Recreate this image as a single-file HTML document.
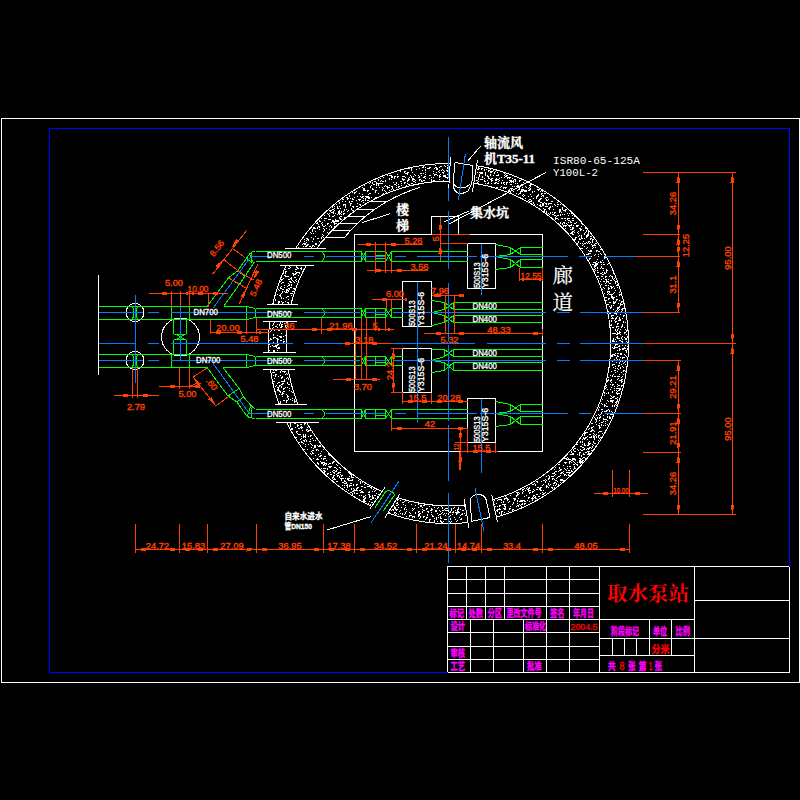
<!DOCTYPE html>
<html lang="zh"><head><meta charset="utf-8"><title>取水泵站</title>
<style>html,body{margin:0;padding:0;background:#000;overflow:hidden}svg{display:block}text{font-family:"Liberation Sans","Noto Sans CJK SC",sans-serif;white-space:pre}.mono{font-family:"Liberation Mono","Noto Sans CJK SC",monospace}.serif{font-family:"Liberation Serif","Noto Serif CJK SC",serif}</style></head>
<body>
<svg width="800" height="800" viewBox="0 0 800 800">
<rect width="800" height="800" fill="#000"/>
<path fill="none" stroke="#fff" stroke-width="1" shape-rendering="crispEdges" transform="translate(0,0.5)" d="M435 165h1M444 165h1M447 165h1M423 166h1M440 166h2M445 166h1M422 167h2M425 167h1M429 167h2M435 167h2M439 167h1M447 167h2M478 167h1M409 168h1M411 168h1M419 168h1M427 168h3M434 168h1M436 168h2M447 168h1M478 168h2M481 168h2M411 169h1M416 169h1M425 169h1M436 169h2M442 169h1M477 169h2M481 169h1M484 169h1M486 169h1M490 169h1M411 170h1M422 170h1M425 170h1M439 170h1M441 170h1M443 170h1M446 170h2M475 170h1M484 170h1M488 170h2M493 170h1M400 171h1M404 171h2M433 171h1M438 171h1M444 171h1M447 171h3M475 171h1M488 171h1M490 171h3M495 171h1M404 172h1M407 172h2M412 172h1M425 172h1M436 172h1M439 172h1M442 172h2M477 172h1M479 172h4M485 172h1M490 172h2M494 172h1M497 172h1M405 173h3M420 173h2M423 173h1M433 173h1M443 173h1M475 173h1M480 173h3M485 173h1M494 173h1M504 173h1M397 174h1M407 174h1M414 174h1M425 174h1M434 174h3M440 174h1M447 174h1M479 174h1M485 174h1M490 174h1M498 174h1M505 174h1M387 175h1M389 175h3M410 175h1M415 175h1M418 175h1M421 175h1M429 175h2M434 175h1M437 175h1M439 175h1M443 175h3M479 175h1M485 175h1M487 175h1M490 175h1M493 175h1M496 175h3M504 175h1M506 175h2M391 176h2M394 176h2M397 176h2M402 176h3M411 176h1M413 176h1M419 176h1M424 176h2M439 176h2M443 176h3M479 176h1M482 176h1M487 176h2M505 176h2M383 177h1M391 177h2M394 177h1M397 177h1M405 177h1M409 177h1M411 177h1M418 177h2M423 177h2M431 177h1M433 177h1M439 177h1M445 177h3M476 177h1M478 177h1M482 177h1M488 177h1M501 177h1M504 177h1M507 177h4M380 178h1M389 178h1M394 178h1M402 178h1M408 178h1M412 178h2M425 178h1M429 178h1M447 178h1M449 178h1M478 178h1M484 178h1M488 178h2M491 178h2M496 178h1M499 178h1M507 178h1M509 178h1M512 178h1M378 179h1M389 179h1M391 179h1M402 179h3M408 179h2M412 179h3M419 179h2M431 179h1M439 179h1M478 179h1M480 179h3M490 179h2M495 179h4M514 179h2M378 180h1M381 180h1M385 180h1M403 180h1M407 180h2M412 180h1M415 180h1M419 180h1M421 180h1M423 180h2M431 180h1M433 180h2M443 180h1M474 180h1M476 180h2M484 180h1M487 180h1M491 180h2M495 180h2M499 180h1M502 180h1M509 180h3M513 180h1M515 180h1M519 180h2M374 181h2M380 181h1M382 181h2M385 181h1M400 181h2M407 181h1M413 181h2M421 181h2M431 181h2M478 181h1M484 181h2M491 181h1M498 181h1M510 181h4M515 181h1M519 181h1M370 182h1M372 182h1M376 182h1M393 182h1M396 182h1M404 182h2M415 182h1M431 182h1M477 182h1M488 182h1M495 182h2M501 182h1M503 182h2M506 182h2M509 182h1M511 182h1M513 182h1M523 182h1M526 182h1M369 183h1M372 183h1M376 183h7M396 183h1M401 183h1M404 183h1M407 183h1M411 183h2M485 183h1M487 183h2M491 183h1M494 183h2M497 183h2M501 183h1M503 183h1M506 183h1M515 183h1M517 183h1M373 184h2M376 184h1M378 184h1M394 184h2M398 184h1M408 184h2M504 184h1M506 184h1M510 184h2M521 184h1M530 184h2M364 185h1M371 185h1M376 185h1M378 185h1M385 185h1M389 185h1M396 185h1M401 185h1M406 185h1M517 185h2M521 185h2M529 185h2M370 186h1M384 186h1M386 186h2M391 186h2M398 186h2M501 186h1M512 186h1M514 186h1M516 186h3M525 186h1M530 186h1M362 187h1M370 187h1M376 187h1M379 187h1M382 187h1M387 187h3M392 187h1M396 187h1M398 187h1M496 187h2M500 187h1M503 187h4M519 187h1M522 187h1M526 187h1M529 187h1M363 188h2M372 188h1M383 188h1M387 188h1M392 188h1M503 188h1M505 188h1M510 188h3M519 188h1M528 188h1M530 188h1M363 189h2M372 189h2M382 189h1M391 189h1M393 189h1M509 189h1M511 189h1M518 189h2M521 189h3M529 189h2M537 189h3M363 190h3M367 190h2M375 190h2M382 190h1M384 190h1M389 190h1M508 190h2M517 190h1M521 190h6M528 190h2M538 190h1M541 190h1M356 191h1M367 191h1M375 191h1M385 191h1M508 191h2M513 191h1M520 191h3M524 191h3M532 191h1M534 191h1M540 191h1M542 191h1M352 192h1M354 192h2M375 192h1M386 192h1M510 192h1M520 192h1M532 192h1M354 193h1M359 193h1M369 193h2M378 193h1M383 193h1M516 193h1M519 193h2M541 193h2M544 193h2M362 194h1M368 194h1M382 194h1M518 194h1M523 194h1M530 194h1M538 194h1M541 194h1M349 195h1M522 195h1M524 195h1M537 195h2M542 195h2M349 196h1M357 196h1M360 196h1M362 196h2M365 196h4M523 196h1M528 196h1M531 196h1M536 196h2M541 196h1M543 196h1M346 197h2M354 197h1M361 197h2M366 197h4M371 197h1M375 197h1M536 197h1M546 197h2M347 198h2M350 198h1M352 198h1M363 198h1M365 198h1M368 198h2M525 198h1M533 198h1M536 198h1M540 198h2M545 198h1M342 199h2M347 199h1M352 199h2M358 199h3M365 199h1M529 199h2M539 199h2M546 199h1M548 199h1M356 200h1M359 200h1M362 200h2M365 200h1M367 200h2M528 200h1M531 200h1M538 200h2M546 200h2M342 201h1M345 201h1M349 201h1M351 201h2M361 201h1M529 201h3M538 201h2M551 201h2M339 202h1M349 202h1M363 202h1M533 202h1M540 202h2M544 202h1M557 202h1M339 203h1M350 203h2M357 203h1M533 203h1M542 203h2M545 203h2M548 203h4M336 204h1M343 204h3M350 204h1M359 204h2M534 204h1M537 204h1M540 204h1M542 204h2M546 204h1M548 204h1M554 204h1M557 204h2M560 204h1M343 205h1M345 205h1M350 205h1M360 205h1M534 205h1M539 205h2M542 205h2M555 205h1M334 206h1M337 206h1M339 206h1M345 206h1M352 206h2M356 206h2M540 206h2M545 206h3M550 206h1M552 206h1M557 206h1M332 207h1M337 207h1M345 207h1M353 207h1M549 207h2M562 207h1M334 208h1M337 208h2M340 208h1M351 208h1M539 208h1M543 208h1M548 208h2M562 208h1M332 209h2M344 209h1M346 209h1M351 209h1M544 209h2M549 209h1M553 209h1M559 209h2M562 209h1M565 209h2M329 210h3M334 210h1M339 210h1M344 210h1M348 210h1M352 210h2M544 210h1M559 210h2M563 210h3M330 211h1M333 211h1M338 211h2M341 211h1M343 211h1M347 211h1M544 211h1M546 211h1M559 211h2M565 211h1M331 212h3M338 212h2M341 212h1M546 212h1M550 212h1M552 212h1M554 212h2M559 212h1M561 212h1M327 213h1M329 213h1M333 213h1M335 213h1M338 213h3M343 213h2M548 213h1M550 213h1M554 213h1M567 213h1M569 213h1M571 213h1M328 214h1M337 214h1M339 214h1M341 214h1M343 214h1M549 214h1M552 214h2M560 214h1M562 214h1M564 214h1M324 215h1M329 215h1M334 215h1M554 215h2M557 215h2M560 215h1M568 215h1M572 215h1M329 216h1M332 216h2M340 216h2M556 216h1M574 216h1M339 217h1M344 217h1M555 217h1M321 218h1M324 218h3M339 218h2M555 218h3M561 218h2M564 218h2M567 218h3M572 218h2M328 219h3M335 219h1M340 219h2M555 219h1M558 219h1M567 219h1M319 220h1M324 220h1M332 220h2M335 220h4M565 220h1M568 220h2M572 220h2M319 221h2M332 221h7M570 221h1M317 222h1M322 222h1M331 222h1M333 222h2M560 222h1M563 222h2M568 222h1M570 222h2M576 222h1M316 223h2M321 223h1M327 223h2M334 223h3M560 223h1M562 223h1M564 223h1M566 223h1M574 223h2M581 223h1M318 224h1M322 224h1M327 224h1M334 224h1M562 224h1M567 224h1M571 224h1M582 224h2M322 225h1M325 225h1M330 225h1M563 225h4M568 225h4M573 225h1M576 225h3M318 226h2M323 226h2M329 226h1M331 226h1M334 226h1M563 226h1M565 226h1M569 226h1M576 226h2M581 226h1M313 227h2M317 227h1M319 227h1M331 227h1M570 227h1M572 227h2M313 228h3M317 228h1M323 228h1M326 228h1M565 228h1M572 228h2M579 228h2M585 228h1M312 229h1M319 229h1M324 229h1M329 229h1M570 229h3M580 229h2M312 230h1M324 230h1M574 230h1M580 230h1M583 230h1M586 230h1M312 231h1M315 231h1M323 231h1M572 231h2M578 231h1M586 231h1M588 231h2M310 232h1M327 232h1M571 232h2M574 232h1M577 232h1M585 232h1M588 232h1M311 233h1M313 233h1M570 233h3M578 233h1M584 233h1M588 233h1M322 234h1M572 234h2M584 234h1M587 234h2M323 235h1M579 235h1M581 235h1M586 235h3M315 236h1M322 236h1M578 236h1M581 236h1M586 236h2M590 236h2M311 237h1M321 237h1M323 237h1M575 237h2M581 237h1M586 237h1M306 238h2M313 238h1M317 238h2M321 238h1M575 238h1M579 238h1M581 238h2M584 238h1M590 238h2M304 239h1M307 239h2M313 239h1M574 239h2M579 239h2M590 239h1M592 239h2M306 240h1M308 240h1M592 240h1M304 241h1M312 241h1M319 241h1M321 241h1M578 241h1M583 241h1M588 241h2M592 241h1M306 242h1M320 242h1M578 242h1M586 242h1M588 242h1M590 242h1M592 242h1M303 243h3M315 243h2M577 243h1M580 243h1M582 243h1M584 243h2M587 243h1M589 243h1M595 243h2M302 244h1M304 244h2M307 244h2M315 244h2M583 244h1M591 244h1M594 244h1M306 245h2M312 245h2M582 245h1M592 245h4M303 246h1M305 246h2M309 246h2M312 246h1M314 246h1M584 246h1M592 246h1M298 247h1M311 247h1M587 247h1M593 247h1M595 247h1M581 248h2M586 248h1M592 248h1M600 249h2M588 250h1M590 250h2M596 250h2M589 251h3M596 251h1M598 251h2M588 253h3M600 253h1M586 254h3M595 254h1M598 254h1M601 254h1M594 255h1M586 256h1M591 256h1M598 256h1M604 256h1M604 257h2M589 258h2M604 258h1M589 259h1M597 259h1M602 260h1M596 261h1M600 261h1M593 262h3M598 262h1M600 262h2M603 262h1M595 263h3M608 263h1M592 264h2M595 264h3M601 264h1M603 264h2M607 264h1M594 265h3M289 266h1M296 266h1M594 266h2M601 266h1M290 267h1M296 267h2M301 267h1M594 267h1M597 267h1M601 267h1M288 268h2M297 268h2M300 268h2M595 268h1M597 268h1M600 268h1M602 268h2M285 269h1M295 269h2M301 269h1M594 269h1M606 269h1M595 270h1M597 270h1M603 270h1M606 270h2M285 271h2M295 271h1M606 271h1M285 272h1M296 272h4M597 272h2M602 272h1M604 272h1M606 272h1M283 273h1M285 273h1M292 273h2M295 273h2M299 273h1M600 273h2M604 273h2M613 273h1M293 274h3M602 274h2M284 275h2M293 275h1M298 275h1M610 275h1M285 276h4M597 276h2M601 276h2M605 276h2M609 276h1M611 276h2M291 277h1M294 277h2M605 277h1M612 277h1M283 278h1M290 278h2M599 278h1M603 278h1M612 278h1M614 278h1M281 279h2M288 279h2M291 279h1M296 279h1M601 279h1M605 279h2M608 279h1M613 279h1M281 280h1M292 280h1M295 280h1M606 280h1M610 280h2M614 280h1M280 281h1M289 281h2M293 281h1M296 281h1M600 281h1M603 281h2M606 281h3M615 281h2M282 282h2M290 282h2M294 282h1M606 282h1M608 282h1M615 282h1M281 283h1M288 283h1M605 283h1M609 283h2M615 283h1M289 284h1M291 284h1M601 284h1M617 284h2M284 285h1M288 285h2M291 285h1M605 285h2M608 285h1M616 285h2M281 286h1M287 286h1M610 286h2M613 286h1M280 287h1M284 287h1M290 287h2M603 287h1M608 287h1M611 287h2M617 287h1M280 288h2M288 288h2M293 288h2M604 288h1M608 288h2M611 288h1M614 288h1M278 289h1M282 289h2M286 289h2M289 289h1M294 289h1M602 289h1M608 289h1M279 290h1M286 290h3M615 290h1M282 291h1M284 291h1M286 291h1M288 291h1M292 291h2M607 291h3M282 292h1M285 292h3M607 292h1M609 292h1M614 292h1M619 292h1M281 293h1M290 293h3M604 293h1M608 293h1M613 293h1M277 294h1M280 294h1M607 294h1M609 294h4M619 294h2M279 295h2M291 295h1M611 295h1M619 295h1M280 296h1M287 296h2M611 296h2M616 296h1M281 297h1M286 297h1M605 297h2M611 297h4M281 298h1M283 298h1M608 298h2M612 298h2M275 299h1M288 299h1M608 299h1M613 299h1M616 299h2M275 300h1M606 300h1M616 300h1M619 300h1M278 301h2M281 301h1M285 301h1M613 301h1M615 301h1M621 301h2M278 302h2M282 302h2M287 302h2M609 302h2M613 302h3M621 302h1M278 303h1M282 303h1M288 303h1M613 303h2M618 303h1M620 303h1M288 304h1M607 304h2M620 304h3M611 305h1M613 305h1M620 305h1M609 306h1M611 306h1M619 306h1M610 307h2M617 307h3M610 308h1M617 308h2M622 308h3M613 309h1M617 309h1M619 309h1M621 309h2M616 310h1M618 310h1M622 310h1M608 311h1M615 311h1M617 311h1M621 311h1M616 312h1M621 312h1M623 312h2M609 313h2M614 313h3M616 314h1M620 314h1M611 315h3M623 315h2M611 316h1M617 316h1M623 316h1M612 317h1M616 317h1M619 317h1M611 318h3M615 318h2M619 318h1M622 318h1M615 319h1M619 319h2M611 320h1M614 320h1M618 320h3M611 321h1M615 321h2M623 321h1M274 322h1M280 322h1M282 322h1M286 322h2M615 322h1M623 322h1M625 322h1M273 323h1M280 323h1M284 323h1M286 323h1M617 323h2M273 324h1M277 324h1M279 324h1M281 324h2M611 324h1M617 324h1M622 324h1M272 325h1M279 325h1M281 325h1M285 325h2M610 325h2M622 325h1M275 326h2M281 326h2M285 326h1M616 326h3M621 326h2M273 327h1M277 327h1M280 327h2M612 327h2M616 327h1M621 327h1M624 327h1M270 328h1M272 328h1M618 328h1M275 329h1M277 329h1M615 329h1M617 329h1M620 329h1M625 329h1M271 330h1M274 330h1M278 330h2M615 330h1M617 330h1M626 330h2M270 331h1M616 331h1M619 331h1M626 331h1M617 332h1M619 332h2M624 332h2M281 333h1M612 333h4M617 333h3M624 333h1M273 334h1M616 334h2M620 334h1M626 334h1M273 335h1M277 335h1M285 335h1M279 336h3M283 336h1M617 336h1M622 336h1M627 336h1M273 337h3M280 337h2M616 337h2M621 337h1M624 337h1M627 337h1M270 338h1M273 338h1M276 338h2M613 338h1M617 338h3M621 338h1M625 338h2M270 339h2M277 339h2M283 339h1M613 339h1M615 339h1M622 339h1M625 339h2M269 340h1M277 340h1M280 340h2M612 340h2M619 340h2M277 341h1M283 341h2M612 341h3M616 341h1M621 341h2M626 341h1M273 342h1M277 342h1M283 342h1M622 342h1M627 342h2M271 343h1M273 343h1M276 343h1M278 343h3M612 343h1M617 343h2M621 343h2M269 344h1M277 344h2M615 344h3M272 345h1M275 345h3M615 345h1M619 345h1M622 345h1M625 345h1M270 346h1M273 346h4M614 346h1M618 346h2M627 346h1M276 347h1M278 347h2M612 347h1M614 347h4M624 347h1M277 348h3M613 348h2M619 348h1M622 348h4M627 348h1M619 349h2M622 349h2M627 349h1M269 350h1M273 350h2M277 350h1M617 350h1M619 350h1M625 350h2M273 351h2M626 351h1M273 352h1M626 352h1M615 353h1M617 353h2M620 353h2M612 354h3M620 354h2M624 354h1M611 355h2M614 355h2M617 355h1M625 355h1M611 356h2M617 356h2M626 356h1M616 357h1M620 357h1M622 357h3M616 358h1M622 358h1M614 359h1M617 359h1M619 359h1M612 360h2M620 360h1M625 360h2M612 361h1M620 361h1M622 361h1M625 361h1M616 362h1M619 362h1M624 362h1M619 363h1M623 363h1M612 364h3M621 364h1M625 364h1M612 365h1M618 365h2M615 366h1M618 366h1M622 366h1M613 367h1M620 367h1M623 367h1M615 368h1M617 368h1M620 368h1M618 369h1M273 370h1M275 370h2M281 370h1M614 370h2M623 370h2M280 371h1M282 371h4M611 371h1M617 371h1M623 371h1M625 371h2M272 372h3M280 372h1M284 372h1M615 372h1M621 372h1M286 373h1M275 374h2M285 374h1M287 374h1M613 374h1M619 374h1M623 374h1M273 375h1M275 375h1M280 375h1M610 375h1M612 375h1M275 376h1M278 376h1M282 376h1M612 376h1M614 376h2M617 376h3M622 376h1M281 377h2M287 377h1M608 377h1M621 377h1M274 378h1M281 378h1M286 378h1M288 378h1M618 378h1M284 379h1M288 379h1M608 379h1M611 379h1M617 379h1M621 379h2M284 380h1M607 380h2M610 380h2M619 380h3M273 381h2M281 381h4M607 381h1M610 381h1M621 381h2M278 382h2M287 382h1M611 382h1M615 382h1M621 382h1M277 383h1M282 383h2M287 383h1M281 384h2M288 384h2M610 384h1M612 384h2M617 384h1M276 385h1M279 385h2M606 385h1M612 385h1M618 385h2M621 385h2M275 386h1M279 386h1M281 386h1M614 386h1M617 386h1M621 386h1M277 387h2M281 387h1M285 387h1M287 387h1M606 387h1M611 387h1M278 388h1M283 388h2M289 388h1M605 388h1M614 388h1M616 388h5M277 389h2M283 389h1M607 389h1M610 389h1M619 389h2M277 390h3M289 390h1M614 390h1M616 390h1M618 390h2M279 391h2M283 391h2M291 391h1M612 391h1M617 391h1M280 392h1M282 392h1M292 392h2M604 392h1M608 392h1M612 392h1M616 392h1M282 393h2M604 393h1M606 393h1M608 393h1M616 393h4M279 394h1M281 394h2M286 394h1M617 394h1M287 395h1M604 395h1M610 395h1M282 396h1M287 396h2M611 396h1M613 396h2M287 397h1M612 397h2M617 397h1M288 398h1M292 398h1M610 398h2M615 398h2M288 399h1M290 399h1M294 399h1M602 399h1M617 399h1M283 400h2M286 400h2M292 400h1M294 400h1M607 400h1M610 400h4M617 400h1M280 401h1M286 401h1M294 401h2M608 401h1M610 401h3M616 401h2M280 402h1M286 402h1M294 402h1M612 402h1M615 402h2M279 403h2M601 403h1M606 403h1M616 403h1M602 404h1M604 404h1M615 404h1M604 405h2M612 405h1M614 405h1M616 405h1M604 406h1M606 406h2M612 406h1M614 406h1M599 407h1M598 409h1M601 409h2M608 409h1M598 410h1M606 410h2M609 410h1M602 411h1M604 411h3M609 411h1M611 411h1M601 412h1M612 412h1M601 413h1M606 413h3M611 413h2M598 414h1M600 414h1M607 414h1M610 414h3M596 415h1M599 415h1M603 415h1M600 416h1M607 416h1M609 416h1M594 417h1M597 417h1M599 417h2M607 417h1M609 417h2M595 418h1M597 418h1M599 418h1M603 418h1M609 418h2M595 419h2M603 419h4M596 420h1M599 420h1M607 420h1M596 421h1M603 421h1M605 421h1M595 422h1M601 422h2M290 423h1M294 423h2M304 423h2M591 423h2M599 423h1M605 423h1M290 424h1M297 424h1M300 424h2M304 424h1M596 424h1M601 424h1M607 424h1M290 425h1M297 425h2M598 425h2M601 425h1M603 425h1M605 425h1M290 426h1M297 426h1M301 426h1M593 426h1M599 426h1M295 427h1M300 427h3M307 427h1M591 427h2M599 427h2M291 428h2M298 428h2M301 428h1M589 428h1M591 428h1M599 428h1M291 429h2M306 429h2M588 429h1M592 429h1M302 430h1M306 430h1M308 430h3M591 430h3M296 431h2M307 431h2M590 431h2M594 431h1M599 431h3M296 432h1M585 432h3M598 432h1M297 433h1M584 433h2M593 433h1M602 433h1M298 434h3M303 434h1M305 434h1M584 434h1M589 434h2M594 434h1M596 434h1M303 435h1M305 435h1M310 435h2M584 435h1M593 435h1M595 435h1M598 435h2M301 436h1M303 436h3M308 436h1M310 436h1M587 436h1M591 436h1M593 436h2M596 436h1M598 436h1M296 437h1M303 437h1M305 437h1M583 437h1M585 437h2M589 437h3M593 437h2M596 437h1M598 437h1M600 437h2M301 438h1M312 438h1M583 438h3M594 438h1M599 438h1M300 439h1M305 439h1M310 439h1M582 439h1M584 439h1M587 439h1M594 439h1M303 440h2M306 440h1M313 440h1M315 440h1M598 440h1M301 441h1M304 441h1M306 441h1M309 441h2M580 441h1M582 441h1M589 441h1M593 441h1M299 442h1M301 442h2M580 442h1M582 442h1M588 442h1M593 442h1M303 443h1M310 443h1M584 443h1M588 443h3M594 443h2M305 444h1M308 444h1M311 444h1M576 444h2M582 444h1M584 444h1M588 444h2M592 444h1M312 445h1M314 445h2M317 445h1M319 445h2M584 445h2M587 445h2M593 445h1M305 446h1M314 446h2M318 446h3M580 446h2M592 446h1M311 447h1M314 447h2M582 447h2M589 447h2M592 447h1M313 448h1M574 448h2M584 448h1M587 448h3M591 448h1M304 449h1M307 449h1M316 449h2M323 449h1M573 449h1M577 449h1M580 449h1M583 449h2M586 449h1M588 449h1M312 450h2M316 450h1M318 450h1M573 450h1M578 450h1M581 450h2M591 450h2M311 451h1M321 451h1M571 451h1M574 451h2M587 451h3M312 452h1M571 452h1M579 452h2M585 452h2M588 452h1M310 453h1M312 453h2M320 453h1M572 453h2M579 453h1M583 453h1M588 453h2M311 454h1M318 454h1M328 454h2M570 454h4M577 454h1M579 454h1M583 454h2M587 454h3M315 455h1M320 455h2M329 455h1M579 455h1M581 455h1M319 456h2M324 456h2M581 456h1M567 457h1M583 457h2M313 458h1M317 458h1M321 458h1M323 458h3M564 458h3M568 458h1M572 458h3M579 458h2M582 458h1M585 458h1M316 459h3M323 459h1M566 459h5M572 459h4M580 459h2M326 460h1M571 460h2M575 460h1M579 460h2M582 460h2M320 461h1M333 461h2M569 461h2M573 461h1M579 461h4M317 462h1M321 462h4M332 462h2M564 462h3M569 462h1M571 462h1M574 462h1M577 462h1M579 462h4M317 463h2M321 463h2M324 463h3M329 463h2M332 463h1M565 463h1M569 463h1M575 463h1M580 463h1M318 464h1M323 464h2M326 464h1M328 464h1M336 464h1M558 464h2M573 464h2M576 464h2M323 465h1M325 465h1M337 465h1M563 465h1M577 465h1M328 466h4M567 466h1M569 466h2M574 466h1M329 467h2M334 467h2M339 467h1M555 467h1M559 467h1M574 467h1M321 468h1M323 468h3M327 468h1M336 468h1M340 468h1M559 468h1M564 468h1M567 468h1M570 468h1M574 468h2M327 469h1M337 469h1M554 469h1M560 469h2M565 469h1M573 469h1M323 470h2M333 470h2M336 470h1M340 470h1M559 470h2M566 470h1M568 470h2M571 470h1M324 471h2M332 471h1M335 471h2M555 471h2M558 471h1M563 471h1M571 471h2M324 472h1M330 472h1M333 472h2M338 472h3M348 472h1M554 472h1M561 472h2M566 472h5M327 473h2M334 473h1M337 473h2M349 473h2M552 473h3M560 473h2M563 473h1M569 473h1M327 474h1M330 474h2M336 474h1M340 474h1M350 474h2M555 474h1M564 474h2M568 474h1M333 475h2M337 475h2M341 475h2M351 475h1M548 475h1M554 475h1M560 475h1M564 475h1M566 475h1M568 475h2M333 476h1M337 476h1M339 476h1M341 476h1M349 476h1M351 476h1M546 476h1M549 476h1M551 476h3M558 476h2M332 477h2M339 477h1M351 477h3M549 477h1M557 477h1M332 478h1M334 478h1M340 478h4M345 478h1M347 478h3M548 478h2M552 478h2M556 478h1M333 479h3M341 479h1M347 479h2M352 479h1M545 479h1M548 479h1M552 479h1M554 479h1M560 479h3M341 480h1M344 480h1M348 480h5M358 480h1M543 480h2M546 480h1M555 480h2M560 480h4M336 481h2M344 481h2M360 481h1M536 481h2M541 481h1M545 481h1M549 481h1M557 481h1M563 481h1M342 482h2M346 482h1M360 482h1M362 482h1M537 482h1M545 482h1M554 482h2M560 482h1M344 483h3M350 483h2M360 483h1M534 483h1M548 483h1M553 483h2M556 483h1M347 484h1M353 484h1M356 484h2M364 484h1M532 484h2M535 484h1M543 484h1M548 484h1M550 484h1M556 484h1M558 484h1M342 485h1M344 485h1M346 485h2M349 485h3M353 485h1M356 485h1M535 485h1M542 485h1M546 485h1M549 485h1M553 485h1M555 485h1M347 486h1M349 486h1M361 486h2M367 486h3M546 486h2M344 487h1M347 487h1M357 487h2M364 487h2M370 487h2M527 487h1M529 487h1M537 487h2M540 487h2M546 487h1M548 487h1M551 487h2M554 487h1M351 488h1M353 488h1M356 488h2M371 488h1M524 488h1M526 488h1M528 488h2M539 488h2M552 488h1M346 489h1M351 489h1M354 489h1M356 489h1M361 489h1M373 489h1M522 489h2M527 489h2M533 489h1M536 489h2M539 489h2M348 490h1M353 490h5M359 490h2M375 490h1M522 490h1M525 490h1M528 490h3M534 490h1M540 490h2M543 490h1M352 491h2M361 491h2M369 491h1M372 491h1M374 491h1M523 491h1M528 491h1M532 491h2M350 492h2M354 492h1M360 492h4M368 492h2M516 492h3M522 492h1M529 492h2M532 492h1M542 492h1M545 492h1M352 493h1M354 493h1M356 493h2M376 493h1M380 493h1M517 493h1M519 493h1M522 493h1M529 493h1M540 493h1M543 493h2M352 494h1M368 494h2M378 494h1M517 494h2M536 494h2M542 494h2M359 495h1M361 495h1M365 495h1M369 495h1M372 495h1M374 495h2M510 495h1M516 495h2M526 495h1M533 495h2M363 496h2M369 496h2M372 496h1M377 496h1M505 496h1M516 496h1M524 496h1M533 496h1M535 496h1M538 496h2M363 497h1M365 497h1M369 497h1M372 497h2M506 497h1M528 497h2M532 497h1M534 497h2M364 498h2M372 498h2M375 498h1M504 498h4M513 498h3M518 498h1M528 498h1M531 498h3M535 498h2M363 499h2M370 499h2M397 499h2M498 499h4M504 499h1M507 499h2M514 499h2M532 499h1M363 500h2M397 500h1M400 500h1M494 500h1M497 500h1M501 500h1M507 500h1M514 500h1M517 500h1M520 500h5M527 500h1M532 500h1M363 501h3M369 501h1M375 501h1M404 501h1M503 501h1M509 501h1M517 501h1M519 501h4M524 501h2M529 501h1M371 502h2M397 502h1M402 502h2M408 502h1M493 502h1M501 502h1M503 502h1M508 502h1M513 502h1M368 503h1M396 503h2M496 503h1M513 503h1M517 503h1M522 503h1M524 503h2M370 504h1M398 504h1M403 504h1M411 504h1M418 504h1M494 504h1M502 504h4M512 504h1M519 504h1M521 504h2M524 504h1M393 505h1M396 505h2M405 505h1M415 505h1M420 505h2M423 505h2M499 505h2M504 505h1M517 505h2M520 505h1M392 506h1M394 506h1M420 506h2M429 506h1M441 506h1M464 506h2M494 506h2M497 506h1M499 506h1M504 506h2M510 506h1M516 506h1M518 506h1M521 506h1M394 507h2M398 507h1M401 507h1M405 507h1M418 507h1M422 507h1M434 507h1M438 507h1M442 507h1M454 507h1M458 507h1M505 507h1M394 508h2M404 508h1M412 508h1M414 508h1M426 508h2M431 508h1M437 508h1M442 508h1M445 508h4M451 508h1M453 508h1M458 508h1M465 508h1M499 508h1M503 508h3M509 508h2M392 509h2M395 509h3M404 509h1M406 509h1M413 509h1M422 509h1M426 509h1M431 509h2M444 509h1M448 509h1M451 509h1M457 509h2M460 509h1M497 509h4M504 509h2M509 509h1M512 509h2M391 510h1M393 510h1M396 510h1M400 510h1M412 510h1M423 510h2M430 510h2M435 510h2M439 510h1M442 510h2M445 510h4M451 510h1M455 510h1M457 510h1M462 510h2M496 510h2M512 510h1M399 511h1M406 511h1M418 511h2M422 511h1M427 511h2M435 511h2M440 511h1M448 511h1M450 511h1M453 511h1M457 511h2M497 511h1M501 511h2M508 511h1M389 512h1M394 512h2M405 512h1M409 512h1M415 512h1M418 512h1M422 512h1M428 512h1M431 512h1M442 512h1M449 512h2M452 512h2M455 512h5M499 512h1M501 512h1M504 512h1M394 513h1M396 513h1M400 513h1M402 513h1M405 513h1M410 513h1M415 513h1M419 513h2M437 513h1M441 513h1M444 513h1M446 513h1M448 513h1M456 513h2M462 513h1M464 513h1M499 513h1M501 513h1M395 514h1M398 514h1M402 514h1M404 514h1M418 514h2M427 514h1M431 514h1M439 514h2M443 514h1M448 514h1M452 514h1M456 514h1M461 514h2M501 514h1M409 515h3M418 515h2M427 515h1M432 515h1M438 515h1M445 515h1M450 515h1M460 515h1M465 515h1M496 515h1M406 516h1M409 516h1M412 516h3M418 516h1M420 516h1M423 516h2M432 516h2M440 516h1M448 516h2M412 517h1M414 517h1M420 517h1M423 517h1M426 517h2M436 517h1M438 517h1M440 517h1M448 517h1M454 517h1M459 517h1M419 518h1M426 518h1M434 518h1M436 518h1M440 518h2M450 518h1M461 518h1M425 519h1M429 519h2M436 519h1M444 519h3M450 519h1M455 519h1M460 519h2M429 520h1M434 520h1M440 520h1M457 520h1M429 521h1M434 521h1M437 521h1M440 521h2M443 521h1M449 521h1M451 521h1M456 521h1M441 522h2M450 522h1"/>
<path fill="none" stroke="#ffffff" stroke-width="1" shape-rendering="crispEdges" d="M1.5 118.5L799.5 118.5L799.5 682.5L1.5 682.5ZM447.5 566.5L789.5 566.5L789.5 672.5L447.5 672.5ZM447.5 579.5L599.5 579.5M447.5 593L599.5 593M447.5 606.5L599.5 606.5M447.5 619.5L599.5 619.5M447.5 632.5L599.5 632.5M447.5 646L599.5 646M447.5 659.5L599.5 659.5M466.5 566.5L466.5 619.5M485.5 566.5L485.5 619.5M504.5 566.5L504.5 619.5M546.5 566.5L546.5 619.5M569.5 566.5L569.5 619.5M470.5 619.5L470.5 672.5M493.5 619.5L493.5 672.5M523.5 619.5L523.5 672.5M546.5 619.5L546.5 672.5M569.5 619.5L569.5 672.5M599.5 566.5L599.5 672.5M694.5 566.5L694.5 672.5M599.5 619.5L694.5 619.5M599.5 638.5L694.5 638.5M599.5 655.5L694.5 655.5M649.5 619.5L649.5 655.5M671.5 619.5L671.5 655.5M612.5 638.5L612.5 655.5M624.5 638.5L624.5 655.5M636.5 638.5L636.5 655.5M694.5 600.5L789.5 600.5M694.5 638.5L789.5 638.5M628.5 343.5L628.48 345.86L628.44 348.21L628.36 350.57L628.25 352.92L628.11 355.27L627.95 357.62L627.74 359.97L627.51 362.32L627.25 364.66L626.96 366.99L626.64 369.33L626.28 371.66L625.9 373.98L625.49 376.3L625.04 378.62L624.57 380.92L624.06 383.23L623.53 385.52L622.96 387.81L622.37 390.09L621.74 392.36L621.09 394.62L620.4 396.88L619.69 399.12L618.95 401.36L618.18 403.59L617.37 405.8L616.54 408.01L615.69 410.2L614.8 412.38L613.88 414.55L612.94 416.71L611.97 418.86L610.97 420.99L609.94 423.11L608.88 425.22L607.8 427.31L606.69 429.39L605.55 431.45L604.38 433.5L603.19 435.53L601.98 437.55L600.73 439.55L599.46 441.54L598.16 443.5L596.84 445.45L595.5 447.39L594.12 449.3L592.73 451.2L591.3 453.08L589.86 454.94L588.39 456.78L586.89 458.6L585.37 460.4L583.83 462.18L582.27 463.94L580.68 465.68L579.07 467.4L577.43 469.1L575.78 470.78L574.1 472.43L572.4 474.07L570.68 475.68L568.94 477.27L567.18 478.83L565.4 480.37L563.6 481.89L561.78 483.39L559.94 484.86L558.08 486.3L556.2 487.73L554.3 489.12L552.39 490.5L550.45 491.84L548.5 493.16L546.54 494.46L544.55 495.73L542.55 496.98L540.53 498.19L538.5 499.38L536.45 500.55L534.39 501.69L532.31 502.8L530.22 503.88L528.11 504.94L525.99 505.97L523.86 506.97L521.71 507.94L519.55 508.88L517.38 509.8L515.2 510.69L513.01 511.54L510.8 512.37L508.59 513.18L506.36 513.95L504.12 514.69L501.88 515.4L499.62 516.09L497.36 516.74L496.6 516.95M467.71 522.47L465.36 522.71L463.01 522.91L460.66 523.09L458.31 523.23L455.96 523.35L453.6 523.43L451.25 523.48L448.89 523.5L446.54 523.49L444.18 523.45L441.83 523.38L439.47 523.27L437.12 523.14L434.77 522.98L432.42 522.78L430.08 522.55L427.73 522.3L425.39 522.01L423.06 521.69L420.73 521.34L418.4 520.97L416.08 520.56L413.77 520.12L411.46 519.65L409.16 519.15L406.86 518.62L404.57 518.06L402.29 517.47L400.02 516.85L397.75 516.2L395.5 515.52L393.25 514.81L391.01 514.07L388.79 513.31L388.04 513.04M371.72 506.3L369.59 505.28L367.48 504.24L365.39 503.16L363.3 502.06L361.23 500.93L359.18 499.78L357.14 498.59L355.12 497.38L353.11 496.15L351.12 494.89L349.15 493.6L347.2 492.29L345.26 490.95L343.34 489.58L341.43 488.19L339.55 486.78L337.68 485.34L335.83 483.88L334.01 482.39L332.2 480.88L330.41 479.35L328.64 477.79L326.89 476.21L325.17 474.61L323.46 472.98L321.78 471.33L320.11 469.66L318.47 467.97L316.86 466.26L315.26 464.53L313.69 462.77L312.14 461L310.61 459.2L309.11 457.39L307.63 455.55L306.18 453.7L304.75 451.83L303.34 449.94L301.96 448.03L300.6 446.1L299.27 444.15L297.97 442.19L296.69 440.21L295.44 438.22L294.21 436.21L293.01 434.18L291.84 432.14L290.69 430.08L289.57 428L288.48 425.92L287.41 423.82L286.89 422.76M279.09 404.33L278.31 402.1L277.55 399.87L276.83 397.63L276.14 395.38L275.47 393.11L274.84 390.85L274.23 388.57L273.66 386.28L273.11 383.99L272.6 381.69L272.11 379.39L271.66 377.07L271.23 374.76L270.84 372.43L270.48 370.11L270.36 369.33M268.71 352.14L268.61 349.78L268.54 347.43L268.51 345.07L268.5 342.71L268.53 340.36L268.58 338L268.67 335.65L268.79 333.3L268.94 330.94L269.12 328.59L269.33 326.25L269.57 323.9L269.84 321.56M272.85 304.16L273.38 301.86L273.94 299.57L274.53 297.29L275.15 295.02L275.8 292.75L276.48 290.5L277.19 288.25L277.93 286.01L278.69 283.79L279.49 281.57L280.32 279.36L281.17 277.16L282.05 274.98L282.96 272.81L283.9 270.65L284.87 268.5L285.87 266.36L286.37 265.3M295.85 248.11L297.11 246.12L298.4 244.15L299.71 242.2L301.05 240.26L302.42 238.34L303.81 236.43L305.22 234.55L306.66 232.68L308.12 230.83L309.61 229.01L311.12 227.2L312.65 225.41L314.21 223.64L315.79 221.89L317.39 220.17L319.02 218.46L320.67 216.78L322.34 215.11L324.03 213.47L325.74 211.86L327.47 210.26L329.23 208.69L331 207.14L332.8 205.61L334.61 204.11L336.45 202.63L338.3 201.18L340.17 199.75L342.06 198.34L343.97 196.96L345.9 195.6L347.85 194.27L349.81 192.97L351.79 191.69L353.78 190.44L355.79 189.21L357.82 188.01L359.86 186.84L361.92 185.69L364 184.57L366.08 183.48L368.18 182.41L370.3 181.37L372.43 180.36L374.57 179.38L376.73 178.43L378.89 177.5L381.07 176.61L383.26 175.74L385.46 174.9L387.67 174.09L389.9 173.31L392.13 172.55L394.37 171.83L396.62 171.14L398.89 170.47L401.15 169.84L403.43 169.23L405.72 168.66L408.01 168.11L410.31 167.6L412.61 167.11L414.93 166.66L417.24 166.23L419.57 165.84L421.89 165.48L424.23 165.14L426.56 164.84L428.9 164.57L431.25 164.33L433.59 164.12L435.94 163.94L438.3 163.79L440.65 163.67L443 163.58L445.36 163.53L447.71 163.5L450.07 163.51M476.66 165.72L478.98 166.1L481.3 166.51L483.62 166.96L485.92 167.43L488.23 167.94L490.52 168.47L492.81 169.04L495.09 169.63L497.36 170.26L499.62 170.91L501.88 171.6L504.12 172.31L506.36 173.05L508.59 173.82L510.8 174.63L513.01 175.46L515.2 176.31L517.38 177.2L519.55 178.12L521.71 179.06L523.86 180.03L525.99 181.03L528.11 182.06L530.22 183.12L532.31 184.2L534.39 185.31L536.45 186.45L538.5 187.62L540.53 188.81L542.55 190.02L544.55 191.27L546.54 192.54L548.5 193.84L550.45 195.16L552.39 196.5L554.3 197.88L556.2 199.27L558.08 200.7L559.94 202.14L561.78 203.61L563.6 205.11L565.4 206.63L567.18 208.17L568.94 209.73L570.68 211.32L572.4 212.93L574.1 214.57L575.78 216.22L577.43 217.9L579.07 219.6L580.68 221.32L582.27 223.06L583.83 224.82L585.37 226.6L586.89 228.4L588.39 230.22L589.86 232.06L591.3 233.92L592.73 235.8L594.12 237.7L595.5 239.61L596.84 241.55L598.16 243.5L599.46 245.46L600.73 247.45L601.98 249.45L603.19 251.47L604.38 253.5L605.55 255.55L606.69 257.61L607.8 259.69L608.88 261.78L609.94 263.89L610.97 266.01L611.97 268.14L612.94 270.29L613.88 272.45L614.8 274.62L615.69 276.8L616.54 278.99L617.37 281.2L618.18 283.41L618.95 285.64L619.69 287.88L620.4 290.12L621.09 292.38L621.74 294.64L622.37 296.91L622.96 299.19L623.53 301.48L624.06 303.77L624.57 306.08L625.04 308.38L625.49 310.7L625.9 313.02L626.28 315.34L626.64 317.67L626.96 320.01L627.25 322.34L627.51 324.68L627.74 327.03L627.95 329.38L628.11 331.73L628.25 334.08L628.36 336.43L628.44 338.79L628.48 341.14L628.5 343.5M610.8 343.5L610.79 345.62L610.74 347.75L610.67 349.87L610.58 351.99L610.45 354.11L610.3 356.23L610.12 358.35L609.91 360.46L609.68 362.58L609.41 364.68L609.12 366.79L608.8 368.89L608.46 370.99L608.08 373.08L607.68 375.16L607.25 377.24L606.8 379.32L606.32 381.39L605.81 383.45L605.27 385.51L604.71 387.55L604.12 389.6L603.5 391.63L602.86 393.65L602.19 395.67L601.49 397.68L600.77 399.67L600.02 401.66L599.25 403.64L598.45 405.61L597.62 407.57L596.77 409.51L595.89 411.45L594.99 413.37L594.06 415.28L593.11 417.18L592.13 419.07L591.13 420.94L590.11 422.8L589.06 424.65L587.98 426.48L586.88 428.3L585.76 430.11L584.62 431.89L583.45 433.67L582.26 435.43L581.04 437.17L579.8 438.9L578.54 440.61L577.26 442.3L575.96 443.98L574.63 445.64L573.28 447.28L571.91 448.91L570.52 450.51L569.11 452.1L567.68 453.67L566.23 455.22L564.76 456.75L563.26 458.26L561.75 459.76L560.22 461.23L558.67 462.68L557.1 464.11L555.51 465.52L553.91 466.91L552.28 468.28L550.64 469.63L548.98 470.96L547.3 472.26L545.61 473.54L543.9 474.8L542.17 476.04L540.43 477.26L538.67 478.45L536.89 479.62L535.11 480.76L533.3 481.88L531.48 482.98L529.65 484.06L527.8 485.11L525.94 486.13L524.07 487.13L522.18 488.11L520.28 489.06L518.37 489.99L516.45 490.89L514.51 491.77L512.57 492.62L510.61 493.45L508.64 494.25L506.66 495.02L504.67 495.77L502.68 496.49L500.67 497.19L498.65 497.86L496.63 498.5L494.6 499.12L492.9 499.61M465.11 504.95L463 505.15L460.88 505.33L458.76 505.48L456.64 505.6L454.52 505.69L452.39 505.75L450.27 505.79L448.15 505.8L446.02 505.78L443.9 505.73L441.77 505.66L439.65 505.56L437.53 505.43L435.41 505.27L433.3 505.09L431.18 504.87L429.07 504.63L426.96 504.36L424.86 504.07L422.76 503.75L420.67 503.4L418.58 503.02L416.49 502.61L414.41 502.18L412.34 501.72L410.27 501.23L408.21 500.72L406.15 500.18L404.1 499.61L402.06 499.02L400.03 498.39L398.01 497.75L397.67 497.64M381.84 491.48L379.91 490.59L377.99 489.68L376.08 488.75L374.19 487.79L372.3 486.8L370.44 485.79L368.58 484.76L366.74 483.7L364.91 482.62L363.1 481.51L361.3 480.38L359.51 479.23L357.74 478.05L355.99 476.85L354.25 475.63L352.53 474.39L350.83 473.12L349.14 471.83L347.47 470.52L345.81 469.18L344.18 467.83L342.56 466.45L340.96 465.06L339.37 463.64L337.81 462.2L336.27 460.74L334.74 459.26L333.24 457.76L331.75 456.24L330.29 454.71L328.84 453.15L327.41 451.57L326.01 449.98L324.63 448.37L323.27 446.74L321.92 445.09L320.61 443.42L319.31 441.74L318.03 440.04L316.78 438.32L315.55 436.59L314.34 434.84L313.16 433.08L312 431.3L310.86 429.51L309.75 427.7L308.66 425.87L307.59 424.04L306.89 422.8M298.02 404.3L297.24 402.32L296.48 400.34L295.75 398.34L295.04 396.34L294.36 394.33L293.71 392.3L293.09 390.27L292.49 388.24L291.92 386.19L291.37 384.14L290.85 382.08L290.36 380.01L289.9 377.94L289.46 375.86L289.05 373.77L288.67 371.68L288.31 369.59M286.44 352.35L286.34 350.23L286.27 348.1L286.22 345.98L286.2 343.85L286.21 341.73L286.25 339.61L286.31 337.48L286.4 335.36L286.52 333.24L286.67 331.12L286.85 329L287.05 326.89L287.28 324.78L287.54 322.67L287.73 321.26M291.02 304.24L291.55 302.18L292.1 300.13L292.68 298.08L293.29 296.05L293.93 294.02L294.59 292L295.27 289.99L295.99 287.99L296.73 286L297.49 284.02L298.28 282.05L299.1 280.08L299.94 278.13L300.81 276.2L301.71 274.27L302.63 272.35L303.57 270.45L304.54 268.56L305.53 266.68L306.38 265.13M317.2 248.1L318.46 246.39L319.74 244.7L321.04 243.02L322.37 241.36L323.72 239.72L325.09 238.09L326.48 236.49L327.89 234.9L329.32 233.33L330.77 231.78L332.24 230.25L333.74 228.74L335.25 227.24L336.78 225.77L338.33 224.32L339.9 222.89L341.49 221.48L343.09 220.09L344.72 218.72L346.36 217.37L348.02 216.04L349.7 214.74L351.39 213.46L353.1 212.2L354.83 210.96L356.57 209.74L358.33 208.55L360.11 207.38L361.89 206.24L363.7 205.12L365.52 204.02L367.35 202.94L369.2 201.89L371.06 200.87L372.93 199.87L374.82 198.89L376.72 197.94L378.63 197.01L380.55 196.11L382.49 195.23L384.43 194.38L386.39 193.55L388.36 192.75L390.34 191.98L392.33 191.23L394.32 190.51L396.33 189.81L398.35 189.14L400.37 188.5L402.4 187.88L404.45 187.29L406.49 186.73L408.55 186.19L410.61 185.68L412.68 185.2L414.76 184.75L416.84 184.32L418.92 183.92L421.01 183.54L423.11 183.2L425.21 182.88L427.32 182.59L429.42 182.32L431.54 182.09L433.65 181.88L435.77 181.7L437.89 181.55L440.01 181.42L442.13 181.33L444.25 181.26L446.38 181.21L448.5 181.2L448.85 181.2M473.89 183.2L475.99 183.54L478.08 183.92L480.16 184.32L482.24 184.75L484.32 185.2L486.39 185.68L488.45 186.19L490.51 186.73L492.55 187.29L494.6 187.88L496.63 188.5L498.65 189.14L500.67 189.81L502.68 190.51L504.67 191.23L506.66 191.98L508.64 192.75L510.61 193.55L512.57 194.38L514.51 195.23L516.45 196.11L518.37 197.01L520.28 197.94L522.18 198.89L524.07 199.87L525.94 200.87L527.8 201.89L529.65 202.94L531.48 204.02L533.3 205.12L535.11 206.24L536.89 207.38L538.67 208.55L540.43 209.74L542.17 210.96L543.9 212.2L545.61 213.46L547.3 214.74L548.98 216.04L550.64 217.37L552.28 218.72L553.91 220.09L555.51 221.48L557.1 222.89L558.67 224.32L560.22 225.77L561.75 227.24L563.26 228.74L564.76 230.25L566.23 231.78L567.68 233.33L569.11 234.9L570.52 236.49L571.91 238.09L573.28 239.72L574.63 241.36L575.96 243.02L577.26 244.7L578.54 246.39L579.8 248.1L581.04 249.83L582.26 251.57L583.45 253.33L584.62 255.11L585.76 256.89L586.88 258.7L587.98 260.52L589.06 262.35L590.11 264.2L591.13 266.06L592.13 267.93L593.11 269.82L594.06 271.72L594.99 273.63L595.89 275.55L596.77 277.49L597.62 279.43L598.45 281.39L599.25 283.36L600.02 285.34L600.77 287.33L601.49 289.32L602.19 291.33L602.86 293.35L603.5 295.37L604.12 297.4L604.71 299.45L605.27 301.49L605.81 303.55L606.32 305.61L606.8 307.68L607.25 309.76L607.68 311.84L608.08 313.92L608.46 316.01L608.8 318.11L609.12 320.21L609.41 322.32L609.68 324.42L609.91 326.54L610.12 328.65L610.3 330.77L610.45 332.89L610.58 335.01L610.67 337.13L610.74 339.25L610.79 341.38L610.8 343.5M285 248.5L326 248.5M279.5 265.5L314 265.5M266.5 304.5L297.5 304.5M263 321.5L296.5 321.5M263 352.5L296 352.5M263 369.5L294.5 369.5M275 404.5L307 404.5M276 422.5L318.5 422.5M450.5 157L448.5 192.5M477.5 160L472.4 191.6M472.4 165.4L455 162.6L453 183.7C453.5 189 456 193.4 460.2 193.4C464 193.4 467 192 468.5 190.3C471 186 472.4 182 472.4 177.6ZM453.4 182.9C455 186 457 188 460.2 188C464 188 468 186.5 470.2 183.7M468 160.8L480.7 146M464.25 498.75L468.75 527.5M491.75 495L497.5 522.5M471.75 521.25L470 501.25C470.5 497 474 494.5 478 494.5C482.5 494.5 485.5 496.5 486.25 500L490 517.5ZM385 487.5L370 508.75M400 493.75L385 517.5M327 530L371.25 516.5M420 187.5L417 188.42L414.03 189.4L411.08 190.43L408.16 191.52L405.27 192.67L402.41 193.87L399.58 195.12L396.78 196.43L394.02 197.79L391.28 199.21L388.59 200.67L385.92 202.18L383.3 203.75L380.71 205.36L378.15 207.02L375.64 208.72L373.17 210.48L370.74 212.27L368.35 214.11L366 216L363.69 217.92L361.43 219.89L359.21 221.9L357.04 223.95L354.92 226.03L352.84 228.16L350.81 230.32L348.82 232.51L346.89 234.74L345 237M369.9 201.5L387.12 201.5M356.93 209.5L374.55 209.5M347.44 216.5L365.4 216.5M339.22 223.5L357.52 223.5M332 230.5L350.64 230.5M326.03 237L345 237M362.5 222.5L390 213.75M354.5 234.5L542.5 234.5L542.5 451.5L354.5 451.5ZM431.5 234.5L431.5 216.5L458.5 216.5L458.5 234.5M467.5 243.5L495.5 243.5L495.5 288.5L467.5 288.5ZM402.5 281.5L431.5 281.5L431.5 326.5L402.5 326.5ZM402.5 348.5L431.5 348.5L431.5 392.5L402.5 392.5ZM467.5 398.5L495.5 398.5L495.5 442.5L467.5 442.5ZM469 211L444.5 221.5M546 172.5L449 224M98.5 275L98.5 375M199.5 337A19 19 0 1 1 161.5 337A19 19 0 1 1 199.5 337ZM144 312.5A9 9 0 1 1 126 312.5A9 9 0 1 1 144 312.5ZM144 360.5A9 9 0 1 1 126 360.5A9 9 0 1 1 144 360.5Z"/>
<path fill="none" stroke="#00ff00" stroke-width="1" shape-rendering="crispEdges" d="M375 507.5L385 492.5C388 488.5 396 492.5 393.75 496.25L383 511.25M255.5 251.5L360 251.5Q361.5 251.5 361.5 253L361.5 260Q361.5 261.5 360 261.5L255.5 261.5M322 251.5Q327 256.5 322 261.5M361.5 251.5L365.5 261.5L365.5 251.5L361.5 261.5ZM367 251.5L384 251.5Q385.5 251.5 385.5 253L385.5 260Q385.5 261.5 384 261.5L367 261.5Q365.5 261.5 365.5 260L365.5 253Q365.5 251.5 367 251.5M375.5 251.5L375.5 261.5M375.5 255L385.5 255M375.5 258L385.5 258M385.5 251.5L391.5 261.5L391.5 251.5L385.5 261.5ZM393 251.5L467.5 251.5M467.5 261.5L393 261.5Q391.5 261.5 391.5 260L391.5 253Q391.5 251.5 393 251.5M255.5 308.5L360 308.5Q361.5 308.5 361.5 310L361.5 316Q361.5 317.5 360 317.5L255.5 317.5M322 308.5Q327 313 322 317.5M361.5 308.5L365.5 317.5L365.5 308.5L361.5 317.5ZM367 308.5L384 308.5Q385.5 308.5 385.5 310L385.5 316Q385.5 317.5 384 317.5L367 317.5Q365.5 317.5 365.5 316L365.5 310Q365.5 308.5 367 308.5M375.5 308.5L375.5 317.5M375.5 312L385.5 312M375.5 314L385.5 314M385.5 308.5L391.5 317.5L391.5 308.5L385.5 317.5ZM393 308.5L402.5 308.5M402.5 317.5L393 317.5Q391.5 317.5 391.5 316L391.5 310Q391.5 308.5 393 308.5M255.5 356.5L360 356.5Q361.5 356.5 361.5 358L361.5 364Q361.5 365.5 360 365.5L255.5 365.5M322 356.5Q327 361 322 365.5M361.5 356.5L365.5 365.5L365.5 356.5L361.5 365.5ZM367 356.5L384 356.5Q385.5 356.5 385.5 358L385.5 364Q385.5 365.5 384 365.5L367 365.5Q365.5 365.5 365.5 364L365.5 358Q365.5 356.5 367 356.5M375.5 356.5L375.5 365.5M375.5 360L385.5 360M375.5 362L385.5 362M385.5 356.5L391.5 365.5L391.5 356.5L385.5 365.5ZM393 356.5L402.5 356.5M402.5 365.5L393 365.5Q391.5 365.5 391.5 364L391.5 358Q391.5 356.5 393 356.5M255.5 409.5L360 409.5Q361.5 409.5 361.5 411L361.5 417Q361.5 418.5 360 418.5L255.5 418.5M322 409.5Q327 414 322 418.5M361.5 409.5L365.5 418.5L365.5 409.5L361.5 418.5ZM367 409.5L384 409.5Q385.5 409.5 385.5 411L385.5 417Q385.5 418.5 384 418.5L367 418.5Q365.5 418.5 365.5 417L365.5 411Q365.5 409.5 367 409.5M375.5 409.5L375.5 418.5M375.5 413L385.5 413M375.5 415L385.5 415M385.5 409.5L391.5 418.5L391.5 409.5L385.5 418.5ZM393 409.5L467.5 409.5M467.5 418.5L393 418.5Q391.5 418.5 391.5 417L391.5 411Q391.5 409.5 393 409.5M98.5 306.5L207 306.5M223.5 306.5L246.5 306.5M98.5 319.5L246.5 319.5M98.5 354.5L246.5 354.5M98.5 367.5L207 367.5M223 367.5L246.5 367.5M246.5 306.5L246.5 319.5M255.5 308.5L255.5 317.5M246.5 306.5L255.5 308.5M246.5 319.5L255.5 317.5M171.5 306.5L171.5 319.5M189.5 306.5L189.5 319.5M246.5 354.5L246.5 367.5M255.5 356.5L255.5 365.5M246.5 354.5L255.5 356.5M246.5 367.5L255.5 365.5M171.5 354.5L171.5 367.5M189.5 354.5L189.5 367.5M173.5 319.5L173.5 332.5Q173.5 334.5 175.5 334.5L184.5 334.5Q186.5 334.5 186.5 332.5L186.5 319.5M173.5 354.5L173.5 341.5Q173.5 339.5 175.5 339.5L184.5 339.5Q186.5 339.5 186.5 341.5L186.5 354.5M176.5 334.5L184.5 339.5L176.5 339.5L184.5 334.5ZM132.5 306.5Q135 312.5 132.5 319.5M137.5 306.5Q135 312.5 137.5 319.5M132.5 354.5Q135 360.5 132.5 367.5M137.5 354.5Q135 360.5 137.5 367.5M207 306.5L228.5 277.75L237.5 271L249.5 254L252 252L255.5 251.5M223.5 306.5L239.3 284.5L245 276.25L253.25 263.5L255.5 261.5M228.5 277.75L239.3 284.5M237.5 271L245 276.25M245.75 257.5L251.75 262.75M249.5 254L253.5 263M251.5 252.5L251.5 262M207 367.5L228 396L237 402L246 415L249 417.5L255.5 418.5M223 367.5L239 388.4L243.6 397L251 405.5L255.5 409.5M228 396L239 388.4M237 402L243.6 397M247 417L251 405.5M251.5 408L251.5 418M495.5 244.5L510.5 247.5M495.5 256.5L510.5 254.5M495.5 256.5L510.5 259.5M495.5 269.5L510.5 267.5M510.5 247.5L520.5 254.5L520.5 247.5L510.5 254.5ZM510.5 259.5L520.5 267.5L520.5 259.5L510.5 267.5ZM522 247.5L542.5 247.5M542.5 254.5L522 254.5Q520.5 254.5 520.5 253L520.5 249Q520.5 247.5 522 247.5M522 259.5L542.5 259.5M542.5 267.5L522 267.5Q520.5 267.5 520.5 266L520.5 261Q520.5 259.5 522 259.5M495.5 401.5L510.5 404.5M495.5 413.5L510.5 411.5M495.5 413.5L510.5 416.5M495.5 426.5L510.5 424.5M510.5 404.5L520.5 411.5L520.5 404.5L510.5 411.5ZM510.5 416.5L520.5 424.5L520.5 416.5L510.5 424.5ZM522 404.5L542.5 404.5M542.5 411.5L522 411.5Q520.5 411.5 520.5 410L520.5 406Q520.5 404.5 522 404.5M522 416.5L542.5 416.5M542.5 424.5L522 424.5Q520.5 424.5 520.5 423L520.5 418Q520.5 416.5 522 416.5M431.5 300.5L444.5 302.5M431.5 312.5L444.5 309.5M431.5 312.5L444.5 315.5M431.5 325.5L444.5 322.5M444.5 302.5L453.5 309.5L453.5 302.5L444.5 309.5ZM444.5 315.5L453.5 322.5L453.5 315.5L444.5 322.5ZM455 302.5L542.5 302.5M542.5 309.5L455 309.5Q453.5 309.5 453.5 308L453.5 304Q453.5 302.5 455 302.5M455 315.5L542.5 315.5M542.5 322.5L455 322.5Q453.5 322.5 453.5 321L453.5 317Q453.5 315.5 455 315.5M431.5 349.5L444.5 349.5M431.5 360.5L444.5 356.5M431.5 360.5L444.5 362.5M431.5 372.5L444.5 370.5M444.5 349.5L453.5 356.5L453.5 349.5L444.5 356.5ZM444.5 362.5L453.5 370.5L453.5 362.5L444.5 370.5ZM455 349.5L542.5 349.5M542.5 356.5L455 356.5Q453.5 356.5 453.5 355L453.5 351Q453.5 349.5 455 349.5M455 362.5L542.5 362.5M542.5 370.5L455 370.5Q453.5 370.5 453.5 369L453.5 364Q453.5 362.5 455 362.5"/>
<path fill="none" stroke="#0080ff" stroke-width="1" shape-rendering="crispEdges" d="M465.4 154L458.4 200M475 488L483.75 530.5M398.75 481.25L371.25 522.5M98.5 343.5L135.5 343.5M147.5 343.5L158.5 343.5M170.5 343.5L293 343.5M304 343.5L343.5 343.5M378.5 343.5L475 343.5M487 343.5L545.5 343.5M557 343.5L569.5 343.5M580 343.5L644 343.5M98.5 312.5L142.5 312.5M147.5 312.5L158.5 312.5M170.5 312.5L293 312.5M304 312.5L360 312.5M366 312.5L387.5 312.5M393 312.5L545.5 312.5M557 312.5L569.5 312.5M580 312.5L643 312.5M98.5 360.5L142.5 360.5M147.5 360.5L158.5 360.5M170.5 360.5L293 360.5M304 360.5L360 360.5M366 360.5L387.5 360.5M393 360.5L545.5 360.5M557 360.5L569.5 360.5M580 360.5L644 360.5M212.75 308.5L250.25 257.5M250.25 257.5L252 256.5M252 256.5L271 256.5M303.5 256.5L313.5 256.5M326 256.5L385 256.5M395 256.5L406 256.5M417 256.5L477 256.5M480 256.5L568 256.5M579 256.5L591 256.5M605 256.5L635.5 256.5M211 360.5L248 411.6M248 411.6L250 413.5M250 413.5L271 413.5M303.5 413.5L313.5 413.5M326 413.5L385 413.5M395 413.5L406 413.5M417 413.5L477 413.5M480 413.5L568 413.5M579 413.5L591 413.5M605 413.5L643 413.5M448.5 137L448.5 177.5M448.5 187.5L448.5 200.5M448.5 211L448.5 268.75M448.5 282.5L448.5 341M448.5 345L448.5 421M448.5 424.5L448.5 481M448.5 493L448.5 510M448.5 516L448.5 562.5M135.5 295L135.5 382.5M180.5 306.5L180.5 360.5M481.5 243.5L481.5 295M417.5 281.5L417.5 334M417.5 330L417.5 422M481.5 398.5L481.5 472.5"/>
<path fill="none" stroke="#ff4000" stroke-width="1" shape-rendering="crispEdges" d="M135.5 549.5L629.5 549.5M135.5 524L135.5 552.5M179.5 524L179.5 552.5M207.5 524L207.5 552.5M256.5 524L256.5 552.5M323.5 524L323.5 552.5M354.5 524L354.5 552.5M416.5 524L416.5 552.5M455.5 524L455.5 552.5M481.5 524L481.5 552.5M542.5 524L542.5 552.5M629.5 524L629.5 552.5M678.5 172.5L678.5 312.5M678.5 360.5L678.5 514.5M732.5 172.5L732.5 514.5M643 172.5L736 172.5M643 234.5L680 234.5M636 256.5L680 256.5M643 312.5L680 312.5M644 343.5L736 343.5M644 360.5L681 360.5M643 413.5L681 413.5M643 452.5L681 452.5M643 514.5L736 514.5M612.5 470L612.5 497M629.5 470L629.5 497M594 493.5L648 493.5M132.5 367.5L132.5 397.5M137.5 367.5L137.5 397.5M114 395.5L159 395.5M171.5 291L171.5 306.5M180.5 291L180.5 306.5M189.5 291L189.5 306.5M208 293L208 306.5M148.5 293.5L227.5 293.5M179.5 367.5L179.5 388.5M189.5 367.5L189.5 388.5M158.5 386.5L201 386.5M210.5 320L210.5 334M246.5 319.5L246.5 334M256.5 318L256.5 334M210.5 332.5L270 332.5M256.5 329.5L394 329.5M321.5 318L321.5 334M361.5 318L361.5 331M366.5 318L366.5 331M375.5 318L375.5 331M385.5 318L385.5 331M342.5 343.5L392 343.5M355.5 331L355.5 379.5M361.5 331L361.5 379.5M366.5 331L366.5 379.5M332.5 379.5L380 379.5M357.5 244.5L423 244.5M375.5 242L375.5 273M385.5 242L385.5 273M391.5 262L391.5 273M367 270.5L428 270.5M372 299.5L402.5 299.5M386.5 299.5L386.5 308.5M391.5 299.5L391.5 308.5M431.5 295.5L463 295.5M445.5 295.5L445.5 334M454 295.5L454 334M424 333.5L542.5 333.5M542.5 329L542.5 336M519.5 267.5L519.5 281M542.5 267.5L542.5 281M519.5 279.5L542.5 279.5M440.5 216.5L440.5 261M431.5 234.5L470 234.5M440 243.5L468 243.5M393.5 348.5L393.5 392.5M391 348.5L402.5 348.5M391 392.5L402.5 392.5M402.5 401.5L467.5 401.5M402.5 392.5L402.5 404M431.5 392.5L431.5 404M391.5 428.5L467.5 428.5M391.5 418.5L391.5 431M467.5 428.5L467.5 442.5M460.5 428.5L460.5 470M455 442.5L467.5 442.5M460.5 451.5L498 451.5M467.5 442.5L467.5 453M495.5 442.5L495.5 453M212.75 274L246.8 230.2M223.25 259.3L239.3 271.75M231.5 247.75L245 257.5M239.3 304L258.2 263.5M239.3 271.75L253.25 280M228.5 277.75L246.5 288.25M193 377L216 406M193 377L207 368M216 406L229 396M189.5 386.5L197 383M459.5 451.5L459.5 470"/>
<path fill="none" stroke="#0000ff" stroke-width="1" shape-rendering="crispEdges" d="M447.5 672.5L49.5 672.5L49.5 128.5L789.5 128.5L789.5 566.5"/>
<path fill="#ff4000" stroke="none" shape-rendering="crispEdges" d="M135.5 549.5L145.5 547.5L145.5 551.5ZM179.5 549.5L169.5 551.5L169.5 547.5ZM179.5 549.5L189.5 547.5L189.5 551.5ZM207.5 549.5L197.5 551.5L197.5 547.5ZM207.5 549.5L217.5 547.5L217.5 551.5ZM256.5 549.5L246.5 551.5L246.5 547.5ZM256.5 549.5L266.5 547.5L266.5 551.5ZM323.5 549.5L313.5 551.5L313.5 547.5ZM323.5 549.5L333.5 547.5L333.5 551.5ZM354.5 549.5L344.5 551.5L344.5 547.5ZM354.5 549.5L364.5 547.5L364.5 551.5ZM416.5 549.5L406.5 551.5L406.5 547.5ZM416.5 549.5L426.5 547.5L426.5 551.5ZM455.5 549.5L445.5 551.5L445.5 547.5ZM455.5 549.5L465.5 547.5L465.5 551.5ZM481.5 549.5L471.5 551.5L471.5 547.5ZM481.5 549.5L491.5 547.5L491.5 551.5ZM542.5 549.5L532.5 551.5L532.5 547.5ZM542.5 549.5L552.5 547.5L552.5 551.5ZM629.5 549.5L619.5 551.5L619.5 547.5ZM678.5 172.5L680.5 182.5L676.5 182.5ZM678.5 234.5L676.5 224.5L680.5 224.5ZM678.5 234.5L680.5 244.5L676.5 244.5ZM678.5 256.5L676.5 246.5L680.5 246.5ZM678.5 256.5L680.5 266.5L676.5 266.5ZM678.5 312.5L676.5 302.5L680.5 302.5ZM678.5 360.5L680.5 370.5L676.5 370.5ZM678.5 413.5L676.5 403.5L680.5 403.5ZM678.5 413.5L680.5 423.5L676.5 423.5ZM678.5 452.5L676.5 442.5L680.5 442.5ZM678.5 452.5L680.5 462.5L676.5 462.5ZM678.5 514.5L676.5 504.5L680.5 504.5ZM732.5 172.5L734.5 182.5L730.5 182.5ZM732.5 343.5L730.5 333.5L734.5 333.5ZM732.5 343.5L734.5 353.5L730.5 353.5ZM732.5 514.5L730.5 504.5L734.5 504.5ZM612.5 493.5L602.5 495.5L602.5 491.5ZM629.5 493.5L639.5 491.5L639.5 495.5ZM132.5 395.5L122.5 397.5L122.5 393.5ZM137.5 395.5L147.5 393.5L147.5 397.5ZM171.5 293.5L161.5 295.5L161.5 291.5ZM189.5 293.5L193.5 291.5L193.5 295.5ZM189.5 293.5L185.5 295.5L185.5 291.5ZM208 293.5L218 291.5L218 295.5ZM208 293.5L198 295.5L198 291.5ZM179.5 386.5L169.5 388.5L169.5 384.5ZM189.5 386.5L199.5 384.5L199.5 388.5ZM210.5 332.5L220.5 330.5L220.5 334.5ZM246.5 332.5L236.5 334.5L236.5 330.5ZM256.5 332.5L260.5 330.5L260.5 334.5ZM321.5 329.5L311.5 331.5L311.5 327.5ZM321.5 329.5L331.5 327.5L331.5 331.5ZM361.5 329.5L351.5 331.5L351.5 327.5ZM375.5 329.5L379.5 327.5L379.5 331.5ZM385.5 329.5L389.5 327.5L389.5 331.5ZM355 343.5L345 345.5L345 341.5ZM366.5 343.5L376.5 341.5L376.5 345.5ZM355.5 379.5L345.5 381.5L345.5 377.5ZM366.5 379.5L376.5 377.5L376.5 381.5ZM375.5 244.5L365.5 246.5L365.5 242.5ZM385.5 244.5L395.5 242.5L395.5 246.5ZM385.5 270.5L375.5 272.5L375.5 268.5ZM391.5 270.5L401.5 268.5L401.5 272.5ZM391.5 299.5L381.5 301.5L381.5 297.5ZM402.5 299.5L406.5 297.5L406.5 301.5ZM431.5 295.5L435.5 293.5L435.5 297.5ZM445.5 295.5L435.5 297.5L435.5 293.5ZM454 295.5L464 293.5L464 297.5ZM445.5 333.5L435.5 335.5L435.5 331.5ZM454 333.5L464 331.5L464 335.5ZM542.5 333.5L532.5 335.5L532.5 331.5ZM519.5 279.5L523.5 277.5L523.5 281.5ZM542.5 279.5L538.5 281.5L538.5 277.5ZM440.5 234.5L438.5 224.5L442.5 224.5ZM440.5 243.5L442.5 253.5L438.5 253.5ZM393.5 348.5L395.5 358.5L391.5 358.5ZM393.5 392.5L391.5 382.5L395.5 382.5ZM402.5 401.5L412.5 399.5L412.5 403.5ZM431.5 401.5L421.5 403.5L421.5 399.5ZM431.5 401.5L441.5 399.5L441.5 403.5ZM467.5 401.5L457.5 403.5L457.5 399.5ZM391.5 428.5L401.5 426.5L401.5 430.5ZM467.5 428.5L457.5 430.5L457.5 426.5ZM460.5 442.5L458.5 432.5L462.5 432.5ZM460.5 451.5L462.5 461.5L458.5 461.5ZM467.5 451.5L477.5 449.5L477.5 453.5ZM495.5 451.5L485.5 453.5L485.5 449.5ZM223.25 259.3L218.69 268.42L215.53 265.97ZM231.5 247.75L236.06 238.63L239.22 241.08ZM246.5 288.25L244.08 298.16L240.46 296.47ZM253.25 280L255.67 270.09L259.29 271.78ZM193 377L200.78 383.59L197.65 386.08ZM216 406L208.22 399.41L211.35 396.92Z"/>
<text x="396" y="213.5" fill="#ffffff" font-size="13" class="serif" font-weight="bold" stroke="#ffffff" stroke-width="0.35">楼</text>
<text x="396" y="229.5" fill="#ffffff" font-size="13" class="serif" font-weight="bold" stroke="#ffffff" stroke-width="0.35">梯</text>
<text x="479.5" y="288" fill="#ffffff" font-size="9.5" transform="rotate(-90 479.5 288)" textLength="25.5" lengthAdjust="spacingAndGlyphs" stroke="#ffffff" stroke-width="0.35">500S13</text>
<text x="488" y="288" fill="#ffffff" font-size="9.5" transform="rotate(-90 488 288)" textLength="34" lengthAdjust="spacingAndGlyphs" stroke="#ffffff" stroke-width="0.35">Y315S-6</text>
<text x="415" y="326" fill="#ffffff" font-size="9.5" transform="rotate(-90 415 326)" textLength="25.5" lengthAdjust="spacingAndGlyphs" stroke="#ffffff" stroke-width="0.35">500S13</text>
<text x="423.5" y="326" fill="#ffffff" font-size="9.5" transform="rotate(-90 423.5 326)" textLength="34" lengthAdjust="spacingAndGlyphs" stroke="#ffffff" stroke-width="0.35">Y315S-6</text>
<text x="415" y="392" fill="#ffffff" font-size="9.5" transform="rotate(-90 415 392)" textLength="25.5" lengthAdjust="spacingAndGlyphs" stroke="#ffffff" stroke-width="0.35">500S13</text>
<text x="423.5" y="392" fill="#ffffff" font-size="9.5" transform="rotate(-90 423.5 392)" textLength="34" lengthAdjust="spacingAndGlyphs" stroke="#ffffff" stroke-width="0.35">Y315S-6</text>
<text x="479.5" y="442" fill="#ffffff" font-size="9.5" transform="rotate(-90 479.5 442)" textLength="25.5" lengthAdjust="spacingAndGlyphs" stroke="#ffffff" stroke-width="0.35">500S13</text>
<text x="488" y="442" fill="#ffffff" font-size="9.5" transform="rotate(-90 488 442)" textLength="34" lengthAdjust="spacingAndGlyphs" stroke="#ffffff" stroke-width="0.35">Y315S-6</text>
<text x="484" y="146.5" fill="#ffffff" font-size="13" class="serif" font-weight="bold" stroke="#ffffff" stroke-width="0.35">轴流风</text>
<text x="484" y="163" fill="#ffffff" font-size="13" class="serif" textLength="51" lengthAdjust="spacingAndGlyphs" font-weight="bold" stroke="#ffffff" stroke-width="0.35">机T35-11</text>
<text x="470" y="216.5" fill="#ffffff" font-size="13" class="serif" font-weight="bold" stroke="#ffffff" stroke-width="0.35">集水坑</text>
<text x="553" y="164" fill="#ffffff" font-size="10.5" class="mono" textLength="87" lengthAdjust="spacingAndGlyphs">ISR80-65-125A</text>
<text x="553" y="176" fill="#ffffff" font-size="10.5" class="mono" textLength="45" lengthAdjust="spacingAndGlyphs">Y100L-2</text>
<text x="552.5" y="283" fill="#ffffff" font-size="20.5" class="serif" stroke="#ffffff" stroke-width="0.2">廊</text>
<text x="552.5" y="310" fill="#ffffff" font-size="20.5" class="serif" stroke="#ffffff" stroke-width="0.2">道</text>
<text x="284.5" y="518.5" fill="#ffffff" font-size="7.5" textLength="38" lengthAdjust="spacingAndGlyphs" font-weight="bold" stroke="#ffffff" stroke-width="0.35">自来水进水</text>
<text x="284.5" y="529" fill="#ffffff" font-size="7.5" textLength="27.5" lengthAdjust="spacingAndGlyphs" font-weight="bold" stroke="#ffffff" stroke-width="0.35">管DN150</text>
<text x="472.5" y="308.5" fill="#ffffff" font-size="9.5" textLength="24.5" lengthAdjust="spacingAndGlyphs" stroke="#ffffff" stroke-width="0.35">DN400</text>
<text x="472.5" y="321.5" fill="#ffffff" font-size="9.5" textLength="24.5" lengthAdjust="spacingAndGlyphs" stroke="#ffffff" stroke-width="0.35">DN400</text>
<text x="472.5" y="356" fill="#ffffff" font-size="9.5" textLength="24.5" lengthAdjust="spacingAndGlyphs" stroke="#ffffff" stroke-width="0.35">DN400</text>
<text x="472.5" y="368.5" fill="#ffffff" font-size="9.5" textLength="24.5" lengthAdjust="spacingAndGlyphs" stroke="#ffffff" stroke-width="0.35">DN400</text>
<text x="267" y="257.5" fill="#ffffff" font-size="9.5" textLength="24.5" lengthAdjust="spacingAndGlyphs" stroke="#ffffff" stroke-width="0.35">DN500</text>
<text x="267" y="316.5" fill="#ffffff" font-size="9.5" textLength="24.5" lengthAdjust="spacingAndGlyphs" stroke="#ffffff" stroke-width="0.35">DN500</text>
<text x="267" y="363.5" fill="#ffffff" font-size="9.5" textLength="24.5" lengthAdjust="spacingAndGlyphs" stroke="#ffffff" stroke-width="0.35">DN500</text>
<text x="267" y="416.5" fill="#ffffff" font-size="9.5" textLength="24.5" lengthAdjust="spacingAndGlyphs" stroke="#ffffff" stroke-width="0.35">DN500</text>
<text x="193.5" y="314.5" fill="#ffffff" font-size="9.5" textLength="24.5" lengthAdjust="spacingAndGlyphs" stroke="#ffffff" stroke-width="0.35">DN700</text>
<text x="196" y="362.5" fill="#ffffff" font-size="9.5" textLength="24.5" lengthAdjust="spacingAndGlyphs" stroke="#ffffff" stroke-width="0.35">DN700</text>
<text x="157.5" y="549" fill="#ff4000" font-size="8.5" text-anchor="middle" stroke="#ff4000" stroke-width="0.35" textLength="23.27" lengthAdjust="spacingAndGlyphs">24.72</text>
<text x="193.5" y="549" fill="#ff4000" font-size="8.5" text-anchor="middle" stroke="#ff4000" stroke-width="0.35" textLength="23.27" lengthAdjust="spacingAndGlyphs">15.83</text>
<text x="232" y="549" fill="#ff4000" font-size="8.5" text-anchor="middle" stroke="#ff4000" stroke-width="0.35" textLength="23.27" lengthAdjust="spacingAndGlyphs">27.09</text>
<text x="290" y="549" fill="#ff4000" font-size="8.5" text-anchor="middle" stroke="#ff4000" stroke-width="0.35" textLength="23.27" lengthAdjust="spacingAndGlyphs">36.95</text>
<text x="339" y="549" fill="#ff4000" font-size="8.5" text-anchor="middle" stroke="#ff4000" stroke-width="0.35" textLength="23.27" lengthAdjust="spacingAndGlyphs">17.38</text>
<text x="385.5" y="549" fill="#ff4000" font-size="8.5" text-anchor="middle" stroke="#ff4000" stroke-width="0.35" textLength="23.27" lengthAdjust="spacingAndGlyphs">34.52</text>
<text x="436" y="549" fill="#ff4000" font-size="8.5" text-anchor="middle" stroke="#ff4000" stroke-width="0.35" textLength="23.27" lengthAdjust="spacingAndGlyphs">21.24</text>
<text x="468.5" y="549" fill="#ff4000" font-size="8.5" text-anchor="middle" stroke="#ff4000" stroke-width="0.35" textLength="23.27" lengthAdjust="spacingAndGlyphs">14.74</text>
<text x="512" y="549" fill="#ff4000" font-size="8.5" text-anchor="middle" stroke="#ff4000" stroke-width="0.35" textLength="18.1" lengthAdjust="spacingAndGlyphs">33.4</text>
<text x="586" y="549" fill="#ff4000" font-size="8.5" text-anchor="middle" stroke="#ff4000" stroke-width="0.35" textLength="23.27" lengthAdjust="spacingAndGlyphs">48.05</text>
<text x="676" y="203.5" fill="#ff4000" font-size="8.5" text-anchor="middle" transform="rotate(-90 676 203.5)" stroke="#ff4000" stroke-width="0.35" textLength="23.27" lengthAdjust="spacingAndGlyphs">34.26</text>
<text x="689" y="245.5" fill="#ff4000" font-size="8.5" text-anchor="middle" transform="rotate(-90 689 245.5)" stroke="#ff4000" stroke-width="0.35" textLength="23.27" lengthAdjust="spacingAndGlyphs">12.25</text>
<text x="676" y="284.5" fill="#ff4000" font-size="8.5" text-anchor="middle" transform="rotate(-90 676 284.5)" stroke="#ff4000" stroke-width="0.35" textLength="18.1" lengthAdjust="spacingAndGlyphs">31.1</text>
<text x="676" y="387" fill="#ff4000" font-size="8.5" text-anchor="middle" transform="rotate(-90 676 387)" stroke="#ff4000" stroke-width="0.35" textLength="23.27" lengthAdjust="spacingAndGlyphs">29.21</text>
<text x="676" y="433" fill="#ff4000" font-size="8.5" text-anchor="middle" transform="rotate(-90 676 433)" stroke="#ff4000" stroke-width="0.35" textLength="23.27" lengthAdjust="spacingAndGlyphs">21.91</text>
<text x="676" y="483.5" fill="#ff4000" font-size="8.5" text-anchor="middle" transform="rotate(-90 676 483.5)" stroke="#ff4000" stroke-width="0.35" textLength="23.27" lengthAdjust="spacingAndGlyphs">34.26</text>
<text x="730.5" y="258" fill="#ff4000" font-size="8.5" text-anchor="middle" transform="rotate(-90 730.5 258)" stroke="#ff4000" stroke-width="0.35" textLength="23.27" lengthAdjust="spacingAndGlyphs">95.00</text>
<text x="730.5" y="429" fill="#ff4000" font-size="8.5" text-anchor="middle" transform="rotate(-90 730.5 429)" stroke="#ff4000" stroke-width="0.35" textLength="23.27" lengthAdjust="spacingAndGlyphs">95.00</text>
<text x="621" y="492.5" fill="#ff4000" font-size="7" text-anchor="middle" textLength="15" lengthAdjust="spacingAndGlyphs" stroke="#ff4000" stroke-width="0.35">10.00</text>
<text x="136" y="410" fill="#ff4000" font-size="8.5" text-anchor="middle" stroke="#ff4000" stroke-width="0.35" textLength="18.1" lengthAdjust="spacingAndGlyphs">2.79</text>
<text x="174" y="286" fill="#ff4000" font-size="8.5" text-anchor="middle" stroke="#ff4000" stroke-width="0.35" textLength="18.1" lengthAdjust="spacingAndGlyphs">5.00</text>
<text x="198" y="292" fill="#ff4000" font-size="8.5" text-anchor="middle" textLength="21" lengthAdjust="spacingAndGlyphs" stroke="#ff4000" stroke-width="0.35">10.00</text>
<text x="187.5" y="397" fill="#ff4000" font-size="8.5" text-anchor="middle" stroke="#ff4000" stroke-width="0.35" textLength="18.1" lengthAdjust="spacingAndGlyphs">5.00</text>
<text x="228" y="331" fill="#ff4000" font-size="8.5" text-anchor="middle" stroke="#ff4000" stroke-width="0.35" textLength="23.27" lengthAdjust="spacingAndGlyphs">20.00</text>
<text x="249.5" y="341.5" fill="#ff4000" font-size="8.5" text-anchor="middle" stroke="#ff4000" stroke-width="0.35" textLength="18.1" lengthAdjust="spacingAndGlyphs">5.48</text>
<text x="341" y="328.5" fill="#ff4000" font-size="8.5" text-anchor="middle" stroke="#ff4000" stroke-width="0.35" textLength="23.27" lengthAdjust="spacingAndGlyphs">21.96</text>
<text x="289.5" y="328.5" fill="#ff4000" font-size="8.5" text-anchor="middle" stroke="#ff4000" stroke-width="0.35" textLength="10.34" lengthAdjust="spacingAndGlyphs">36</text>
<text x="375" y="328.5" fill="#ff4000" font-size="8.5" text-anchor="middle" stroke="#ff4000" stroke-width="0.35" textLength="5.17" lengthAdjust="spacingAndGlyphs">5</text>
<text x="364.5" y="342.5" fill="#ff4000" font-size="8.5" text-anchor="middle" stroke="#ff4000" stroke-width="0.35" textLength="18.1" lengthAdjust="spacingAndGlyphs">3.18</text>
<text x="363" y="390" fill="#ff4000" font-size="8.5" text-anchor="middle" stroke="#ff4000" stroke-width="0.35" textLength="18.1" lengthAdjust="spacingAndGlyphs">3.70</text>
<text x="413.5" y="243.5" fill="#ff4000" font-size="8.5" text-anchor="middle" stroke="#ff4000" stroke-width="0.35" textLength="18.1" lengthAdjust="spacingAndGlyphs">5.26</text>
<text x="419.5" y="269.5" fill="#ff4000" font-size="8.5" text-anchor="middle" stroke="#ff4000" stroke-width="0.35" textLength="18.1" lengthAdjust="spacingAndGlyphs">3.56</text>
<text x="395" y="296.5" fill="#ff4000" font-size="8.5" text-anchor="middle" stroke="#ff4000" stroke-width="0.35" textLength="18.1" lengthAdjust="spacingAndGlyphs">6.00</text>
<text x="440" y="293.5" fill="#ff4000" font-size="8.5" text-anchor="middle" stroke="#ff4000" stroke-width="0.35" textLength="18.1" lengthAdjust="spacingAndGlyphs">7.96</text>
<text x="449.5" y="342.5" fill="#ff4000" font-size="8.5" text-anchor="middle" stroke="#ff4000" stroke-width="0.35" textLength="18.1" lengthAdjust="spacingAndGlyphs">5.32</text>
<text x="499" y="332.5" fill="#ff4000" font-size="8.5" text-anchor="middle" stroke="#ff4000" stroke-width="0.35" textLength="23.27" lengthAdjust="spacingAndGlyphs">48.33</text>
<text x="531" y="278.5" fill="#ff4000" font-size="8.5" text-anchor="middle" textLength="21" lengthAdjust="spacingAndGlyphs" stroke="#ff4000" stroke-width="0.35">12.55</text>
<text x="439" y="239" fill="#ff4000" font-size="8.5" text-anchor="middle" transform="rotate(-90 439 239)" stroke="#ff4000" stroke-width="0.35" textLength="5.17" lengthAdjust="spacingAndGlyphs">5</text>
<text x="392.5" y="371" fill="#ff4000" font-size="8.5" text-anchor="middle" transform="rotate(-90 392.5 371)" stroke="#ff4000" stroke-width="0.35" textLength="18.1" lengthAdjust="spacingAndGlyphs">24.2</text>
<text x="417.5" y="400.5" fill="#ff4000" font-size="8.5" text-anchor="middle" stroke="#ff4000" stroke-width="0.35" textLength="18.1" lengthAdjust="spacingAndGlyphs">15.5</text>
<text x="449" y="400.5" fill="#ff4000" font-size="8.5" text-anchor="middle" stroke="#ff4000" stroke-width="0.35" textLength="23.27" lengthAdjust="spacingAndGlyphs">20.28</text>
<text x="430" y="427" fill="#ff4000" font-size="8.5" text-anchor="middle" stroke="#ff4000" stroke-width="0.35" textLength="10.34" lengthAdjust="spacingAndGlyphs">42</text>
<text x="459" y="447" fill="#ff4000" font-size="8" text-anchor="middle" transform="rotate(-90 459 447)" textLength="7" lengthAdjust="spacingAndGlyphs" stroke="#ff4000" stroke-width="0.35">12</text>
<text x="481.5" y="450.5" fill="#ff4000" font-size="8.5" text-anchor="middle" stroke="#ff4000" stroke-width="0.35" textLength="18.1" lengthAdjust="spacingAndGlyphs">15.5</text>
<text x="219.2" y="250" fill="#ff4000" font-size="8.5" text-anchor="middle" transform="rotate(-52.14 219.2 250)" stroke="#ff4000" stroke-width="0.35" textLength="18.1" lengthAdjust="spacingAndGlyphs">8.56</text>
<text x="258.5" y="289" fill="#ff4000" font-size="8.5" text-anchor="middle" transform="rotate(-64.98 258.5 289)" stroke="#ff4000" stroke-width="0.35" textLength="18.1" lengthAdjust="spacingAndGlyphs">5.48</text>
<text x="209.5" y="386" fill="#ff4000" font-size="8.5" text-anchor="middle" transform="rotate(51.58 209.5 386)" stroke="#ff4000" stroke-width="0.35" textLength="12.93" lengthAdjust="spacingAndGlyphs">.60</text>
<text x="449.5" y="616.5" fill="#ff00ff" font-size="10" textLength="14.5" lengthAdjust="spacingAndGlyphs" font-weight="bold" stroke="#ff00ff" stroke-width="0.35">标记</text>
<text x="468.5" y="616.5" fill="#ff00ff" font-size="10" textLength="14.5" lengthAdjust="spacingAndGlyphs" font-weight="bold" stroke="#ff00ff" stroke-width="0.35">处数</text>
<text x="487.5" y="616.5" fill="#ff00ff" font-size="10" textLength="14.5" lengthAdjust="spacingAndGlyphs" font-weight="bold" stroke="#ff00ff" stroke-width="0.35">分区</text>
<text x="506.5" y="616.5" fill="#ff00ff" font-size="10" textLength="35" lengthAdjust="spacingAndGlyphs" font-weight="bold" stroke="#ff00ff" stroke-width="0.35">更改文件号</text>
<text x="550" y="616.5" fill="#ff00ff" font-size="10" textLength="14.5" lengthAdjust="spacingAndGlyphs" font-weight="bold" stroke="#ff00ff" stroke-width="0.35">签名</text>
<text x="573" y="616.5" fill="#ff00ff" font-size="10" textLength="21" lengthAdjust="spacingAndGlyphs" font-weight="bold" stroke="#ff00ff" stroke-width="0.35">年月日</text>
<text x="450.5" y="630" fill="#ff00ff" font-size="10" textLength="14.5" lengthAdjust="spacingAndGlyphs" font-weight="bold" stroke="#ff00ff" stroke-width="0.35">设计</text>
<text x="525" y="630" fill="#ff00ff" font-size="10" textLength="21" lengthAdjust="spacingAndGlyphs" font-weight="bold" stroke="#ff00ff" stroke-width="0.35">标准化</text>
<text x="570.5" y="630" fill="#ff0000" font-size="9.5" textLength="27" lengthAdjust="spacingAndGlyphs" stroke="#ff0000" stroke-width="0.35">2004.5</text>
<text x="450.5" y="656.5" fill="#ff00ff" font-size="10" textLength="14.5" lengthAdjust="spacingAndGlyphs" font-weight="bold" stroke="#ff00ff" stroke-width="0.35">审核</text>
<text x="450.5" y="669.5" fill="#ff00ff" font-size="10" textLength="14.5" lengthAdjust="spacingAndGlyphs" font-weight="bold" stroke="#ff00ff" stroke-width="0.35">工艺</text>
<text x="527" y="669.5" fill="#ff00ff" font-size="10" textLength="14.5" lengthAdjust="spacingAndGlyphs" font-weight="bold" stroke="#ff00ff" stroke-width="0.35">批准</text>
<text x="611" y="635" fill="#ff00ff" font-size="10" textLength="28" lengthAdjust="spacingAndGlyphs" font-weight="bold" stroke="#ff00ff" stroke-width="0.35">阶段标记</text>
<text x="653" y="635" fill="#ff00ff" font-size="10" textLength="14" lengthAdjust="spacingAndGlyphs" font-weight="bold" stroke="#ff00ff" stroke-width="0.35">单位</text>
<text x="675.5" y="635" fill="#ff00ff" font-size="10" textLength="14.5" lengthAdjust="spacingAndGlyphs" font-weight="bold" stroke="#ff00ff" stroke-width="0.35">比例</text>
<text x="651.5" y="652.5" fill="#ff0000" font-size="10" textLength="18" lengthAdjust="spacingAndGlyphs" font-weight="bold" stroke="#ff0000" stroke-width="0.35">分米</text>
<text x="608" y="669.5" fill="#ff00ff" font-size="10" textLength="7.5" lengthAdjust="spacingAndGlyphs" font-weight="bold" stroke="#ff00ff" stroke-width="0.35">共</text>
<text x="619.5" y="669.5" fill="#ff0000" font-size="10" textLength="5" lengthAdjust="spacingAndGlyphs" stroke="#ff0000" stroke-width="0.35">8</text>
<text x="628" y="669.5" fill="#ff00ff" font-size="10" textLength="7.5" lengthAdjust="spacingAndGlyphs" font-weight="bold" stroke="#ff00ff" stroke-width="0.35">张</text>
<text x="638.5" y="669.5" fill="#ff00ff" font-size="10" textLength="8" lengthAdjust="spacingAndGlyphs" font-weight="bold" stroke="#ff00ff" stroke-width="0.35">第</text>
<text x="648.5" y="669.5" fill="#ff0000" font-size="10" textLength="4" lengthAdjust="spacingAndGlyphs" stroke="#ff0000" stroke-width="0.35">1</text>
<text x="654.5" y="669.5" fill="#ff00ff" font-size="10" textLength="7.5" lengthAdjust="spacingAndGlyphs" font-weight="bold" stroke="#ff00ff" stroke-width="0.35">张</text>
<text x="607" y="600.5" fill="#ff0000" font-size="20.5" class="serif" textLength="82" lengthAdjust="spacingAndGlyphs" font-weight="bold">取水泵站</text>
</svg>
</body></html>
